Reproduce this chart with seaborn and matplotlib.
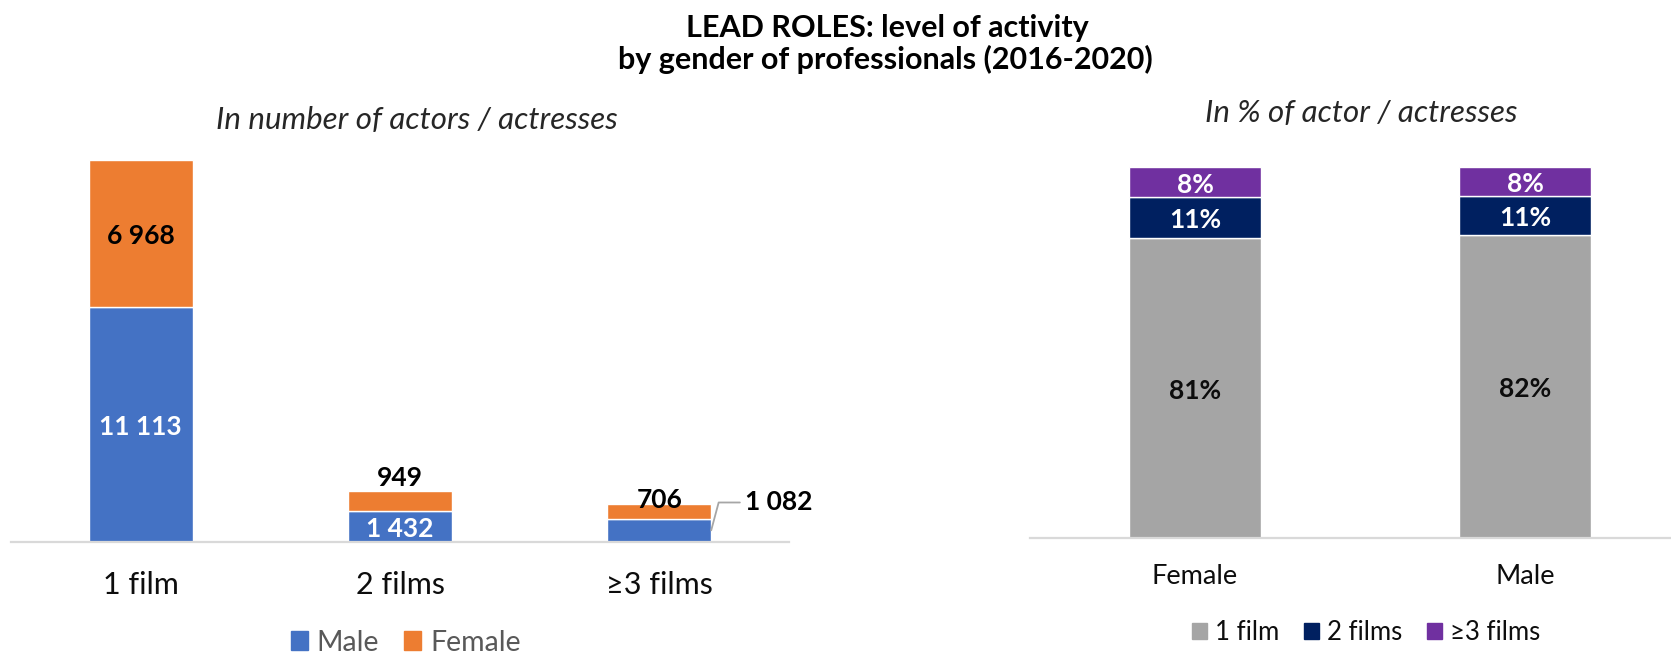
import numpy as np
import pandas as pd
import matplotlib
matplotlib.use("Agg")
import matplotlib.pyplot as plt
from matplotlib.patches import Patch
import seaborn as sns

# Lead roles per number of films, by gender (2016-2020)
film_groups = ["1 film", "2 films", "≥3 films"]
male_counts = [11113, 1432, 1082]
female_counts = [6968, 949, 706]

genders = ["Female", "Male"]

MALE_C = "#4472C4"
FEMALE_C = "#ED7D31"
SHARE_COLORS = ["#A5A5A5", "#002060", "#7030A0"]
AXIS_C = "#D9D9D9"

sns.set_theme(style="white")
plt.rcParams["font.family"] = ["Lato", "DejaVu Sans"]


def thousands(v):
    return f"{v:,}".replace(",", " ")


fig = plt.figure(figsize=(16.71, 6.57), dpi=100)
ax1 = fig.add_axes([0.00658, 0.1755, 0.4656, 0.5962])
ax2 = fig.add_axes([0.6164, 0.1816, 0.3836, 0.5901])

# ---- left: stacked counts ----
counts = pd.DataFrame({"group": film_groups,
                       "Male": male_counts,
                       "Female": female_counts})
male = np.array(male_counts)
female = np.array(female_counts)

sns.barplot(data=counts, x="group", y="Male", color=MALE_C, width=0.4,
            saturation=1, errorbar=None, ax=ax1)
sns.barplot(data=counts, x="group", y="Female", bottom=male, color=FEMALE_C,
            width=0.4, saturation=1, errorbar=None, ax=ax1)

ax1.set_xlim(-0.5, 2.5)
ax1.set_ylim(0, (male + female).max() * 391.7 / 381.7)

lab_kw = dict(ha="center", fontsize=19, fontweight="bold")
center_kw = dict(textcoords="offset points", xytext=(0, -2), va="center")
# male values
for i in (0, 1):
    ax1.annotate(thousands(male[i]), xy=(i, male[i] / 2), color="white",
                 **center_kw, **lab_kw)
ax1.annotate(thousands(male[2]), xy=(2 + 0.2, male[2] / 2), xytext=(24, 20),
             textcoords="offset points", ha="left", va="center",
             fontsize=19, fontweight="bold", color="black",
             arrowprops=dict(arrowstyle="-", color="#A6A6A6", lw=1.3,
                             connectionstyle="angle,angleA=0,angleB=75,rad=0",
                             shrinkA=1, shrinkB=0))
# female values
ax1.annotate(thousands(female[0]), xy=(0, male[0] + female[0] / 2),
             color="black", **center_kw, **lab_kw)
ax1.annotate(thousands(female[1]), xy=(1, male[1] + female[1]), xytext=(0, 1),
             textcoords="offset points", va="bottom", color="black", **lab_kw)
ax1.annotate(thousands(female[2]), xy=(2, male[2] + female[2]), xytext=(0, 3),
             textcoords="offset points", va="center", color="black", **lab_kw)

# ---- right: shares within each gender ----
female_share = female / female.sum() * 100
male_share = male / male.sum() * 100
shares = np.vstack([female_share, male_share])  # rows: genders, cols: groups

bottom = np.zeros(len(genders))
for j, name in enumerate(film_groups):
    part = pd.DataFrame({"gender": genders, "share": shares[:, j]})
    sns.barplot(data=part, x="gender", y="share", bottom=bottom,
                color=SHARE_COLORS[j], width=0.4, saturation=1,
                errorbar=None, ax=ax2)
    for i in range(len(genders)):
        ax2.annotate(f"{round(shares[i, j]):.0f}%",
                     xy=(i, bottom[i] + shares[i, j] / 2),
                     ha="center", fontsize=19, fontweight="bold",
                     color="#0D0D0D" if j == 0 else "white", **center_kw)
    bottom = bottom + shares[:, j]

ax2.set_xlim(-0.5, 1.442)
ax2.set_ylim(0, 100 * (537.7 - 150) / 371)

# ---- axes styling ----
for ax, fs, pad in ((ax1, 22, 21), (ax2, 19.5, 19)):
    ax.set_xlabel("")
    ax.set_ylabel("")
    ax.set_yticks([])
    for s in ("left", "right", "top"):
        ax.spines[s].set_visible(False)
    ax.spines["bottom"].set_color(AXIS_C)
    ax.spines["bottom"].set_linewidth(1.6)
    ax.tick_params(axis="x", length=0, pad=pad, labelsize=fs, labelcolor="#0D0D0D")

# ---- legends ----
fig.legend(handles=[Patch(color=MALE_C, label="Male"),
                    Patch(color=FEMALE_C, label="Female")],
           loc="center", bbox_to_anchor=(0.2427, 0.022), ncol=2, frameon=False,
           borderpad=0.05, fontsize=20.5, labelcolor="#595959", handlelength=0.6,
           handleheight=0.6, handletextpad=0.3, columnspacing=0.9)
fig.legend(handles=[Patch(color=c, label=n) for c, n in zip(SHARE_COLORS, film_groups)],
           loc="center", bbox_to_anchor=(0.8175, 0.0375), ncol=3, frameon=False,
           fontsize=18.5, labelcolor="#0D0D0D", handlelength=0.6, handleheight=0.6,
           handletextpad=0.3, columnspacing=0.95)

# ---- titles ----
fig.text(0.531, 1 - 37 / 657, "LEAD ROLES: level of activity", ha="center",
         va="baseline", fontsize=22, fontweight="bold", color="black")
fig.text(0.530, 1 - 69 / 657, "by gender of professionals (2016-2020)", ha="center",
         va="baseline", fontsize=22, fontweight="bold", color="black")
fig.text(417 / 1671, 1 - 129 / 657, "In number of actors / actresses", ha="center",
         va="baseline", fontsize=22.5, fontstyle="italic", color="#262626")
fig.text(1361 / 1671, 1 - 122 / 657, "In % of actor / actresses", ha="center",
         va="baseline", fontsize=22.5, fontstyle="italic", color="#262626")

fig.savefig("out.png", dpi=100)
